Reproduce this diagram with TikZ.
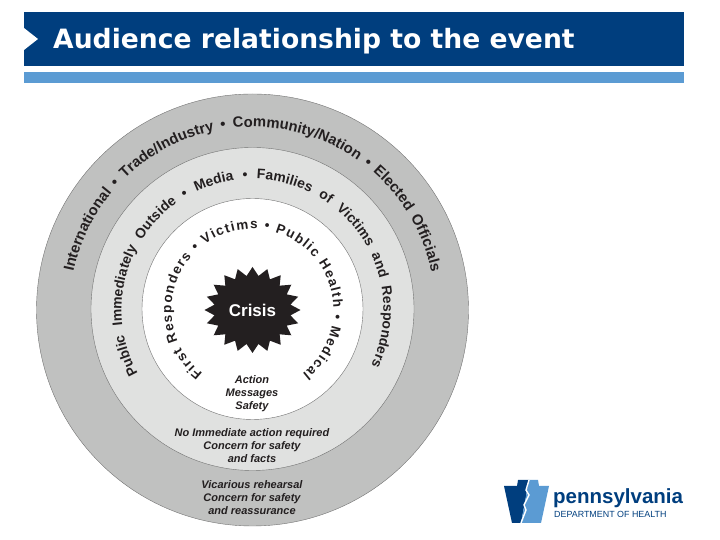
\documentclass[tikz,border=0pt]{standalone}
\usepackage{fontspec}
\setmainfont{Liberation Sans}
\newfontfamily\titrefont{DejaVu Sans}
\usetikzlibrary{shapes.geometric,decorations.text}
\definecolor{bleufonce}{HTML}{003E7E}
\definecolor{bleuclair}{HTML}{5B9BD3}
\definecolor{grisext}{HTML}{C0C1C0}
\definecolor{grismil}{HTML}{E0E1E0}
\definecolor{noir}{HTML}{231F20}
\begin{document}
\begin{tikzpicture}[x=1pt,y=1pt]
	% Styles
	\tikzstyle{anneau}=[circle,draw=black!55,line width=0.4pt,inner sep=0pt]
	\tikzstyle{legende}=[align=center,font=\fontsize{11}{13}\selectfont\bfseries\itshape,text=noir]
	\tikzstyle{cercletexte}=[decorate]
	% Dimensions
	\def\CentreX{252.5}
	\def\CentreY{230}
	\def\RayonA{183}
	\def\RayonB{131}
	\def\RayonC{81}
	\useasboundingbox (0,0) rectangle (720,540);
	% Bandeau
	\fill[bleufonce] (24,474) rectangle (684,528);
	\fill[bleuclair] (24,457) rectangle (684,468);
	\fill[white] (24,512) -- (38,501) -- (24,490) -- cycle;
	\node[anchor=base west,inner sep=0pt,text=white,font=\titrefont\fontsize{26.6}{30}\selectfont\bfseries] (titre) at (53,491) {Audience relationship to the event};
	% Anneaux
	\node[anneau,fill=grisext,minimum size=432] (ext) at (\CentreX,\CentreY) {};
	\node[anneau,fill=grismil,minimum size=323] (mil) at (\CentreX,\CentreY+1) {};
	\node[anneau,fill=white,minimum size=221] (int) at (\CentreX,\CentreY+1) {};
	% Etoile
	\node[star,star points=20,star point ratio=1.25,fill=noir,minimum size=86,inner sep=0pt,xscale=1.116] (etoile) at (\CentreX,\CentreY) {};
	\node[text=white,font=\fontsize{17}{20}\selectfont\bfseries] (crise) at (etoile) {Crisis};
	% Textes courbes
	\path[cercletexte,decoration={text along path,text align=fit to path stretching spaces,text={|\fontsize{14.8}{18}\selectfont\bfseries\color{noir}|International • Trade/Industry • Community/Nation • Elected Officials}}]
		({\CentreX+\RayonA*cos(168)},{\CentreY+\RayonA*sin(168)}) arc[start angle=168,end angle=12,radius=\RayonA];
	\path[cercletexte,decoration={text along path,text align=fit to path stretching spaces,text={|\fontsize{13.9}{17}\selectfont\bfseries\color{noir}|Public Immediately Outside • Media • Families of Victims and Responders}}]
		({\CentreX+\RayonB*cos(209)},{\CentreY+\RayonB*sin(209)}) arc[start angle=209,end angle=-25,radius=\RayonB];
	\path[cercletexte,decoration={text along path,text align=fit to path,text={|\fontsize{13.5}{16}\selectfont\bfseries\color{noir}|First Responders • Victims • Public Health • Medical}}]
		({\CentreX+\RayonC*cos(232)},{\CentreY+\RayonC*sin(232)}) arc[start angle=232,end angle=-52,radius=\RayonC];
	% Legendes
	\node[legende] (action) at (252,146) {Action\\Messages\\Safety};
	\node[legende] (aucune) at (252,94) {No Immediate action required\\Concern for safety\\and facts};
	\node[legende] (vicaire) at (252,42) {Vicarious rehearsal\\Concern for safety\\and reassurance};
	% Logo
	\fill[bleufonce] (504,54) -- (517,54) -- (518,60) -- (529,60) -- (521,17) -- (512,17) -- cycle;
	\fill[bleuclair] (529,60) -- (538,60) -- (539,54) -- (549,54) -- (541,17) -- (521,17) -- cycle;
	\draw[white,line width=1.4pt] (529,60) -- (526,50) -- (529,45) -- (524,35) -- (526,30) -- (521,17);
	\node[anchor=base west,inner sep=0pt,text=bleufonce,font=\fontsize{20.5}{24}\selectfont\bfseries] (penn) at (553,36) {pennsylvania};
	\node[anchor=base west,inner sep=0pt,text=bleufonce,font=\fontsize{8.9}{10}\selectfont] (sante) at (554,22) {DEPARTMENT OF HEALTH};
\end{tikzpicture}
\end{document}
